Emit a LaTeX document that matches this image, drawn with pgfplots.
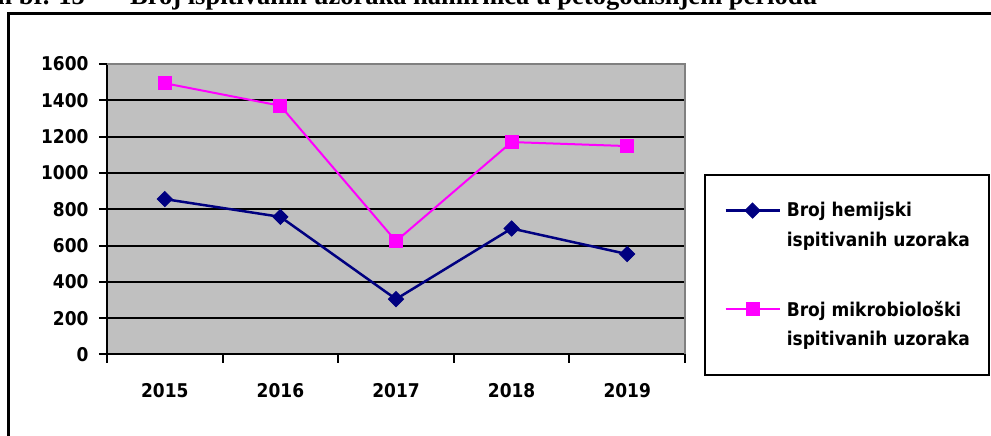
\documentclass[border=0pt]{standalone}
\usepackage{fontspec}
\usepackage{pgfplots}
\pgfplotsset{compat=1.18}
\newfontfamily\deja{DejaVu Sans Condensed}
\newfontfamily\titleserif{Liberation Serif}
\definecolor{plotgray}{HTML}{C0C0C0}
\definecolor{bordergray}{HTML}{808080}
\definecolor{navyblue}{HTML}{000080}
\definecolor{magentac}{HTML}{FF00FF}
\newcommand\chartfont{\deja\bfseries\fontsize{19}{22}\selectfont}
\newcommand\legfont{\deja\bfseries\fontsize{19}{30}\selectfont}
\begin{document}
\begin{tikzpicture}
\useasboundingbox (0,0) rectangle (991bp,436bp);
% title (cut at top edge)
\node[anchor=base east, inner sep=0pt, font=\titleserif\bfseries\fontsize{26.6}{30}\selectfont] at (85bp,431bp) {Grafikon br. 15};
\node[anchor=base, inner sep=0pt, font=\titleserif\bfseries\fontsize{26.6}{30}\selectfont] at (107bp,431bp) {–};
\node[anchor=base west, inner sep=0pt, font=\titleserif\bfseries\fontsize{26.6}{30}\selectfont] at (130bp,431bp) {Broj ispitivanih uzoraka namirnica u petogodišnjem periodu};
% outer frame
\draw[line width=2.5bp] (8.5bp,-10bp) -- (8.5bp,422.5bp) -- (1000bp,422.5bp);
\begin{axis}[
  at={(107bp,81.5bp)}, anchor=south west,
  scale only axis, width=578bp, height=290.5bp,
  xmin=0.5, xmax=5.5, ymin=0, ymax=1600,
  axis x line*=bottom, axis y line*=left,
  axis line style={-, black, line width=2bp},
  axis background/.style={fill=plotgray},
  xtick={1,2,3,4,5},
  xticklabels={2015,2016,2017,2018,2019},
  minor xtick={0.5,1.5,2.5,3.5,4.5,5.5},
  ytick={0,200,...,1600},
  tick align=outside,
  major tick length=8bp, minor tick length=8bp,
  every tick/.style={black, line width=2bp},
  every major x tick/.append style={draw=none},
  ymajorgrids,
  major grid style={black, line width=2bp},
  tick label style={font=\chartfont},
  xticklabel style={yshift=-17bp},
  yticklabel style={xshift=-7bp},
  /pgf/number format/assume math mode=true,
  /pgf/number format/1000 sep={},
  clip=false,
  legend cell align=left,
  legend style={at={(1.0334,0.6213)}, anchor=north west, draw=black, line width=2bp, fill=white,
    inner xsep=19bp, inner ysep=27.5bp, row sep=52.6bp, column sep=6bp,
    font=\legfont, nodes={inner sep=0pt}},
  legend image code/.code={\draw[mark repeat=2,mark phase=2,#1] plot coordinates {(0bp,14.8bp) (27bp,14.8bp) (54bp,14.8bp)};},
  after end axis/.code={\draw[bordergray, line width=2bp] (rel axis cs:0,1) -- (rel axis cs:1,1) -- (rel axis cs:1,0);},
]
\addplot[navyblue, line width=2.5bp, mark=square*, mark size=5.3bp, mark options={solid, rotate=45, line width=1bp}]
  coordinates {(1,856) (2,758) (3,305) (4,694) (5,553)};
\addlegendentry{\vbox{\hbox{Broj hemijski}\hbox{ispitivanih uzoraka}}}
\addplot[magentac, line width=2bp, mark=square*, mark size=6.5bp, mark options={solid, line width=1bp}]
  coordinates {(1,1494) (2,1370) (3,624) (4,1170) (5,1148)};
\addlegendentry{\vbox{\hbox{Broj mikrobiološki}\hbox{ispitivanih uzoraka}}}
\end{axis}
\end{tikzpicture}
\end{document}
